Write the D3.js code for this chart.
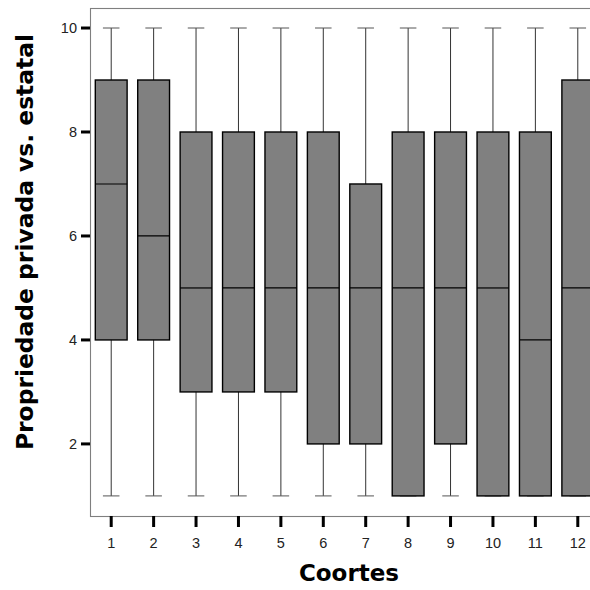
<!DOCTYPE html>
<html>
<head>
<meta charset="utf-8">
<script src="https://cdn.jsdelivr.net/npm/d3@7"></script>
<style>
  body { margin: 0; background: #fff; }
  .tick-label { font-family: "Liberation Sans", Arial, sans-serif; font-size: 14.5px; fill: #222; }
  .axis-title { font-family: "DejaVu Sans", sans-serif; font-weight: bold; fill: #000; }
</style>
</head>
<body>
<div id="chart"></div>
<script>
var width = 590, height = 590,
    margin = {top: 8, right: -9, bottom: 74, left: 90};

// boxplot stats per cohort
var cohorts = ["1", "2", "3", "4", "5", "6", "7", "8", "9", "10", "11", "12"];
var whiskLo = [1, 1, 1, 1, 1, 1, 1, 1, 1, 1, 1, 1];
var q1      = [4, 4, 3, 3, 3, 2, 2, 1, 2, 1, 1, 1];
var median  = [7, 6, 5, 5, 5, 5, 5, 5, 5, 5, 4, 5];
var q3      = [9, 9, 8, 8, 8, 8, 7, 8, 8, 8, 8, 9];
var whiskHi = [10, 10, 10, 10, 10, 10, 10, 10, 10, 10, 10, 10];
var yTicks = [2, 4, 6, 8, 10];

var data = cohorts.map(function(c, i) {
    return {c: c, lo: whiskLo[i], q1: q1[i], med: median[i], q3: q3[i], hi: whiskHi[i]};
});

var x = d3.scaleBand()
    .domain(cohorts)
    .range([margin.left, width - margin.right])
    .paddingInner(0.25)
    .paddingOuter(0.125);

var y = d3.scaleLinear()
    .domain([0.6136, 10.385])
    .range([height - margin.bottom, margin.top]);

var svg = d3.select("#chart").append("svg")
    .attr("width", width)
    .attr("height", height);

var px0 = margin.left, px1 = width - margin.right,
    py0 = margin.top, py1 = height - margin.bottom;

// panel border
svg.append("rect")
    .attr("x", px0 + 0.5)
    .attr("y", py0 + 0.5)
    .attr("width", px1 - px0)
    .attr("height", py1 - py0)
    .attr("fill", "#fff")
    .attr("stroke", "#7f7f7f")
    .attr("stroke-width", 1.1);

var bw = x.bandwidth(), capW = bw * 0.52;
var g = svg.selectAll("g.box").data(data).enter().append("g")
    .attr("class", "box")
    .attr("transform", function(d) { return "translate(" + (x(d.c) + bw / 2) + ",0)"; });

// whiskers
g.append("line")
    .attr("x1", 0).attr("x2", 0)
    .attr("y1", function(d) { return y(d.hi); })
    .attr("y2", function(d) { return y(d.lo); })
    .attr("stroke", "#333").attr("stroke-width", 1);

g.selectAll("line.cap")
    .data(function(d) { return [d.lo, d.hi]; })
    .enter().append("line")
    .attr("class", "cap")
    .attr("x1", -capW / 2).attr("x2", capW / 2)
    .attr("y1", function(v) { return y(v); })
    .attr("y2", function(v) { return y(v); })
    .attr("stroke", "#555").attr("stroke-width", 1);

g.append("rect")
    .attr("x", -bw / 2)
    .attr("width", bw)
    .attr("y", function(d) { return y(d.q3); })
    .attr("height", function(d) { return y(d.q1) - y(d.q3); })
    .attr("fill", "#808080")
    .attr("stroke", "#000")
    .attr("stroke-width", 1.4);

g.append("line")
    .attr("x1", -bw / 2).attr("x2", bw / 2)
    .attr("y1", function(d) { return y(d.med); })
    .attr("y2", function(d) { return y(d.med); })
    .attr("stroke", "#000").attr("stroke-width", 1.2);

// y axis ticks
var yAxis = svg.append("g");
yAxis.selectAll("line").data(yTicks).enter().append("line")
    .attr("x1", px0 - 9).attr("x2", px0)
    .attr("y1", function(d) { return y(d); })
    .attr("y2", function(d) { return y(d); })
    .attr("stroke", "#000").attr("stroke-width", 3);
yAxis.selectAll("text").data(yTicks).enter().append("text")
    .attr("class", "tick-label")
    .attr("x", px0 - 13)
    .attr("y", function(d) { return y(d); })
    .attr("dy", "0.36em")
    .attr("text-anchor", "end")
    .text(function(d) { return d; });

// x axis ticks
var xAxis = svg.append("g");
xAxis.selectAll("line").data(cohorts).enter().append("line")
    .attr("x1", function(d) { return x(d) + bw / 2; })
    .attr("x2", function(d) { return x(d) + bw / 2; })
    .attr("y1", py1).attr("y2", py1 + 11)
    .attr("stroke", "#000").attr("stroke-width", 3);
xAxis.selectAll("text").data(cohorts).enter().append("text")
    .attr("class", "tick-label")
    .attr("x", function(d) { return x(d) + bw / 2; })
    .attr("y", py1 + 32)
    .attr("text-anchor", "middle")
    .text(function(d) { return d; });

svg.append("text")
    .attr("class", "axis-title")
    .attr("x", 349)
    .attr("y", 581)
    .attr("text-anchor", "middle")
    .style("font-size", "23px")
    .text("Coortes");

svg.append("text")
    .attr("class", "axis-title")
    .attr("transform", "translate(33,242) rotate(-90)")
    .attr("text-anchor", "middle")
    .style("font-size", "23.4px")
    .text("Propriedade privada vs. estatal");
</script>
</body>
</html>
